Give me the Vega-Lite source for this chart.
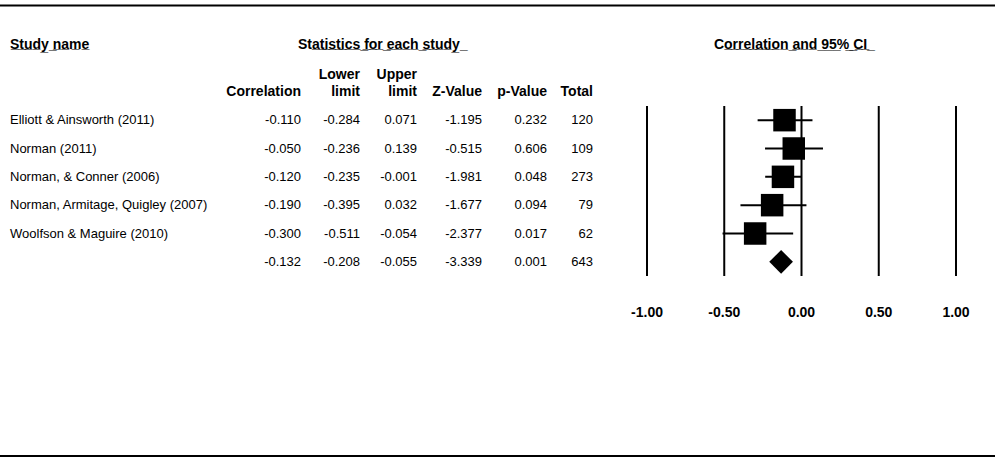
{
  "$schema": "https://vega.github.io/schema/vega-lite/v6.json",
  "width": 995,
  "height": 462,
  "autosize": "none",
  "padding": 0,
  "background": "white",
  "config": {
    "view": {"stroke": null},
    "font": "Liberation Sans",
    "text": {"font": "Liberation Sans", "color": "black"}
  },
  "datasets": {
    "studies": [
      {"study": "Elliott & Ainsworth (2011)", "kind": "study", "corr": -0.110, "lower": -0.284, "upper": 0.071, "z": -1.195, "p": 0.232, "total": 120},
      {"study": "Norman (2011)", "kind": "study", "corr": -0.050, "lower": -0.236, "upper": 0.139, "z": -0.515, "p": 0.606, "total": 109},
      {"study": "Norman, & Conner (2006)", "kind": "study", "corr": -0.120, "lower": -0.235, "upper": -0.001, "z": -1.981, "p": 0.048, "total": 273},
      {"study": "Norman, Armitage, Quigley (2007)", "kind": "study", "corr": -0.190, "lower": -0.395, "upper": 0.032, "z": -1.677, "p": 0.094, "total": 79},
      {"study": "Woolfson & Maguire (2010)", "kind": "study", "corr": -0.300, "lower": -0.511, "upper": -0.054, "z": -2.377, "p": 0.017, "total": 62},
      {"study": "", "kind": "summary", "corr": -0.132, "lower": -0.208, "upper": -0.055, "z": -3.339, "p": 0.001, "total": 643}
    ],
    "headers": [
      {"key": "corr", "l1": "", "l2": "Correlation"},
      {"key": "lower", "l1": "Lower", "l2": "limit"},
      {"key": "upper", "l1": "Upper", "l2": "limit"},
      {"key": "z", "l1": "", "l2": "Z-Value"},
      {"key": "p", "l1": "", "l2": "p-Value"},
      {"key": "total", "l1": "", "l2": "Total"}
    ],
    "ticks": [{"t": -1}, {"t": -0.5}, {"t": 0}, {"t": 0.5}, {"t": 1}]
  },
  "layer": [
    {
      "layer": [
        {
          "data": {"name": "studies"},
          "transform": [{"window": [{"op": "row_number", "as": "row"}]}],
          "mark": {"type": "text", "align": "left", "baseline": "middle", "fontSize": 13},
          "encoding": {
            "x": {"datum": 0, "type": "quantitative", "scale": {"domain": [0, 1, 2, 3, 4, 5, 6], "range": [10, 301, 360, 417, 482, 547, 593], "nice": false, "zero": false}, "axis": null},
            "y": {"field": "row", "type": "quantitative", "scale": {"domain": [0.5, 6.5], "range": [106, 276], "nice": false, "zero": false}, "axis": null},
            "text": {"field": "study"}
          }
        },
        {
          "data": {"name": "studies"},
          "transform": [
            {"window": [{"op": "row_number", "as": "row"}]},
            {"fold": ["corr", "lower", "upper", "z", "p", "total"], "as": ["key", "val"]},
            {"calculate": "indexof(['name','corr','lower','upper','z','p','total'], datum.key)", "as": "idx"},
            {"calculate": "datum.key == 'total' ? format(datum.val, 'd') : replace(format(datum.val, '.3f'), '\u2212', '-')", "as": "label"}
          ],
          "mark": {"type": "text", "align": "right", "baseline": "middle", "fontSize": 13},
          "encoding": {
            "x": {"field": "idx", "type": "quantitative", "scale": {"domain": [0, 1, 2, 3, 4, 5, 6], "range": [10, 301, 360, 417, 482, 547, 593], "nice": false, "zero": false}, "axis": null},
            "y": {"field": "row", "type": "quantitative", "axis": null},
            "text": {"field": "label"}
          }
        },
        {
          "data": {"name": "headers"},
          "transform": [
            {"filter": "datum.l1 != ''"},
            {"calculate": "indexof(['name','corr','lower','upper','z','p','total'], datum.key)", "as": "idx"}
          ],
          "mark": {"type": "text", "align": "right", "baseline": "middle", "fontSize": 14, "fontWeight": "bold"},
          "encoding": {
            "x": {"field": "idx", "type": "quantitative", "axis": null},
            "y": {"datum": -0.61, "type": "quantitative", "axis": null},
            "text": {"field": "l1"}
          }
        },
        {
          "data": {"name": "headers"},
          "transform": [
            {"calculate": "indexof(['name','corr','lower','upper','z','p','total'], datum.key)", "as": "idx"}
          ],
          "mark": {"type": "text", "align": "right", "baseline": "middle", "fontSize": 14, "fontWeight": "bold"},
          "encoding": {
            "x": {"field": "idx", "type": "quantitative", "axis": null},
            "y": {"datum": 0, "type": "quantitative", "axis": null},
            "text": {"field": "l2"}
          }
        },
        {
          "data": {"values": [{}]},
          "mark": {"type": "text", "align": "left", "baseline": "middle", "fontSize": 14, "fontWeight": "bold", "text": "S\u0332t\u0332u\u0332d\u0332y\u0332 \u0332n\u0332a\u0332m\u0332e\u0332"},
          "encoding": {
            "x": {"datum": 0, "type": "quantitative", "axis": null},
            "y": {"datum": -1.67, "type": "quantitative", "axis": null}
          }
        },
        {
          "data": {"values": [{}]},
          "mark": {"type": "text", "align": "left", "baseline": "middle", "fontSize": 14, "fontWeight": "bold", "dx": -3, "text": "Sta\u0332t\u0332i\u0332s\u0332t\u0332i\u0332c\u0332s\u0332 \u0332f\u0332o\u0332r\u0332 \u0332e\u0332a\u0332c\u0332h\u0332 \u0332s\u0332t\u0332u\u0332d\u0332y\u0332 \u0332"},
          "encoding": {
            "x": {"datum": 1, "type": "quantitative", "axis": null},
            "y": {"datum": -1.67, "type": "quantitative", "axis": null}
          }
        },
        {
          "data": {"values": [{}]},
          "mark": {"type": "rule", "color": "black", "strokeWidth": 2},
          "encoding": {
            "y": {"datum": -3.05, "type": "quantitative", "axis": null}
          }
        },
        {
          "data": {"values": [{}]},
          "mark": {"type": "rule", "color": "black", "strokeWidth": 2},
          "encoding": {
            "y": {"datum": 12.85, "type": "quantitative", "axis": null}
          }
        }
      ]
    },
    {
      "layer": [
        {
          "data": {"name": "ticks"},
          "mark": {"type": "rule", "color": "black", "strokeWidth": 2},
          "encoding": {
            "x": {"field": "t", "type": "quantitative", "scale": {"domain": [-1, 1], "range": [647, 956], "nice": false, "zero": false}, "axis": null},
            "y": {"datum": 0.5, "type": "quantitative", "axis": null},
            "y2": {"datum": 6.5}
          }
        },
        {
          "data": {"name": "ticks"},
          "transform": [{"calculate": "replace(format(datum.t, '.2f'), '\u2212', '-')", "as": "label"}],
          "mark": {"type": "text", "align": "center", "baseline": "middle", "fontSize": 14, "fontWeight": "bold"},
          "encoding": {
            "x": {"field": "t", "type": "quantitative", "axis": null},
            "y": {"datum": 7.8, "type": "quantitative", "axis": null},
            "text": {"field": "label"}
          }
        },
        {
          "data": {"name": "studies"},
          "transform": [
            {"window": [{"op": "row_number", "as": "row"}]},
            {"filter": "datum.kind == 'study'"}
          ],
          "mark": {"type": "rule", "color": "black", "strokeWidth": 2},
          "encoding": {
            "x": {"field": "lower", "type": "quantitative", "axis": null},
            "x2": {"field": "upper"},
            "y": {"field": "row", "type": "quantitative", "axis": null}
          }
        },
        {
          "data": {"name": "studies"},
          "transform": [
            {"window": [{"op": "row_number", "as": "row"}]},
            {"filter": "datum.kind == 'study'"}
          ],
          "mark": {"type": "point", "shape": "square", "filled": true, "color": "black", "opacity": 1, "size": 506, "strokeWidth": 0},
          "encoding": {
            "x": {"field": "corr", "type": "quantitative", "axis": null},
            "y": {"field": "row", "type": "quantitative", "axis": null}
          }
        },
        {
          "data": {"name": "studies"},
          "transform": [
            {"window": [{"op": "row_number", "as": "row"}]},
            {"filter": "datum.kind == 'summary'"}
          ],
          "mark": {"type": "point", "shape": "diamond", "filled": true, "color": "black", "opacity": 1, "size": 560, "strokeWidth": 0},
          "encoding": {
            "x": {"field": "corr", "type": "quantitative", "axis": null},
            "y": {"field": "row", "type": "quantitative", "axis": null}
          }
        },
        {
          "data": {"values": [{}]},
          "mark": {"type": "text", "align": "center", "baseline": "middle", "fontSize": 14, "fontWeight": "bold", "dx": -9, "text": "Co\u0332r\u0332r\u0332e\u0332l\u0332a\u0332t\u0332i\u0332o\u0332n\u0332 \u0332a\u0332n\u0332d\u0332 \u03329\u03325\u0332%\u0332 \u0332C\u0332I\u0332 \u0332"},
          "encoding": {
            "x": {"datum": 0, "type": "quantitative", "axis": null},
            "y": {"datum": -1.67, "type": "quantitative", "axis": null}
          }
        }
      ]
    }
  ],
  "resolve": {"scale": {"x": "independent"}}
}
